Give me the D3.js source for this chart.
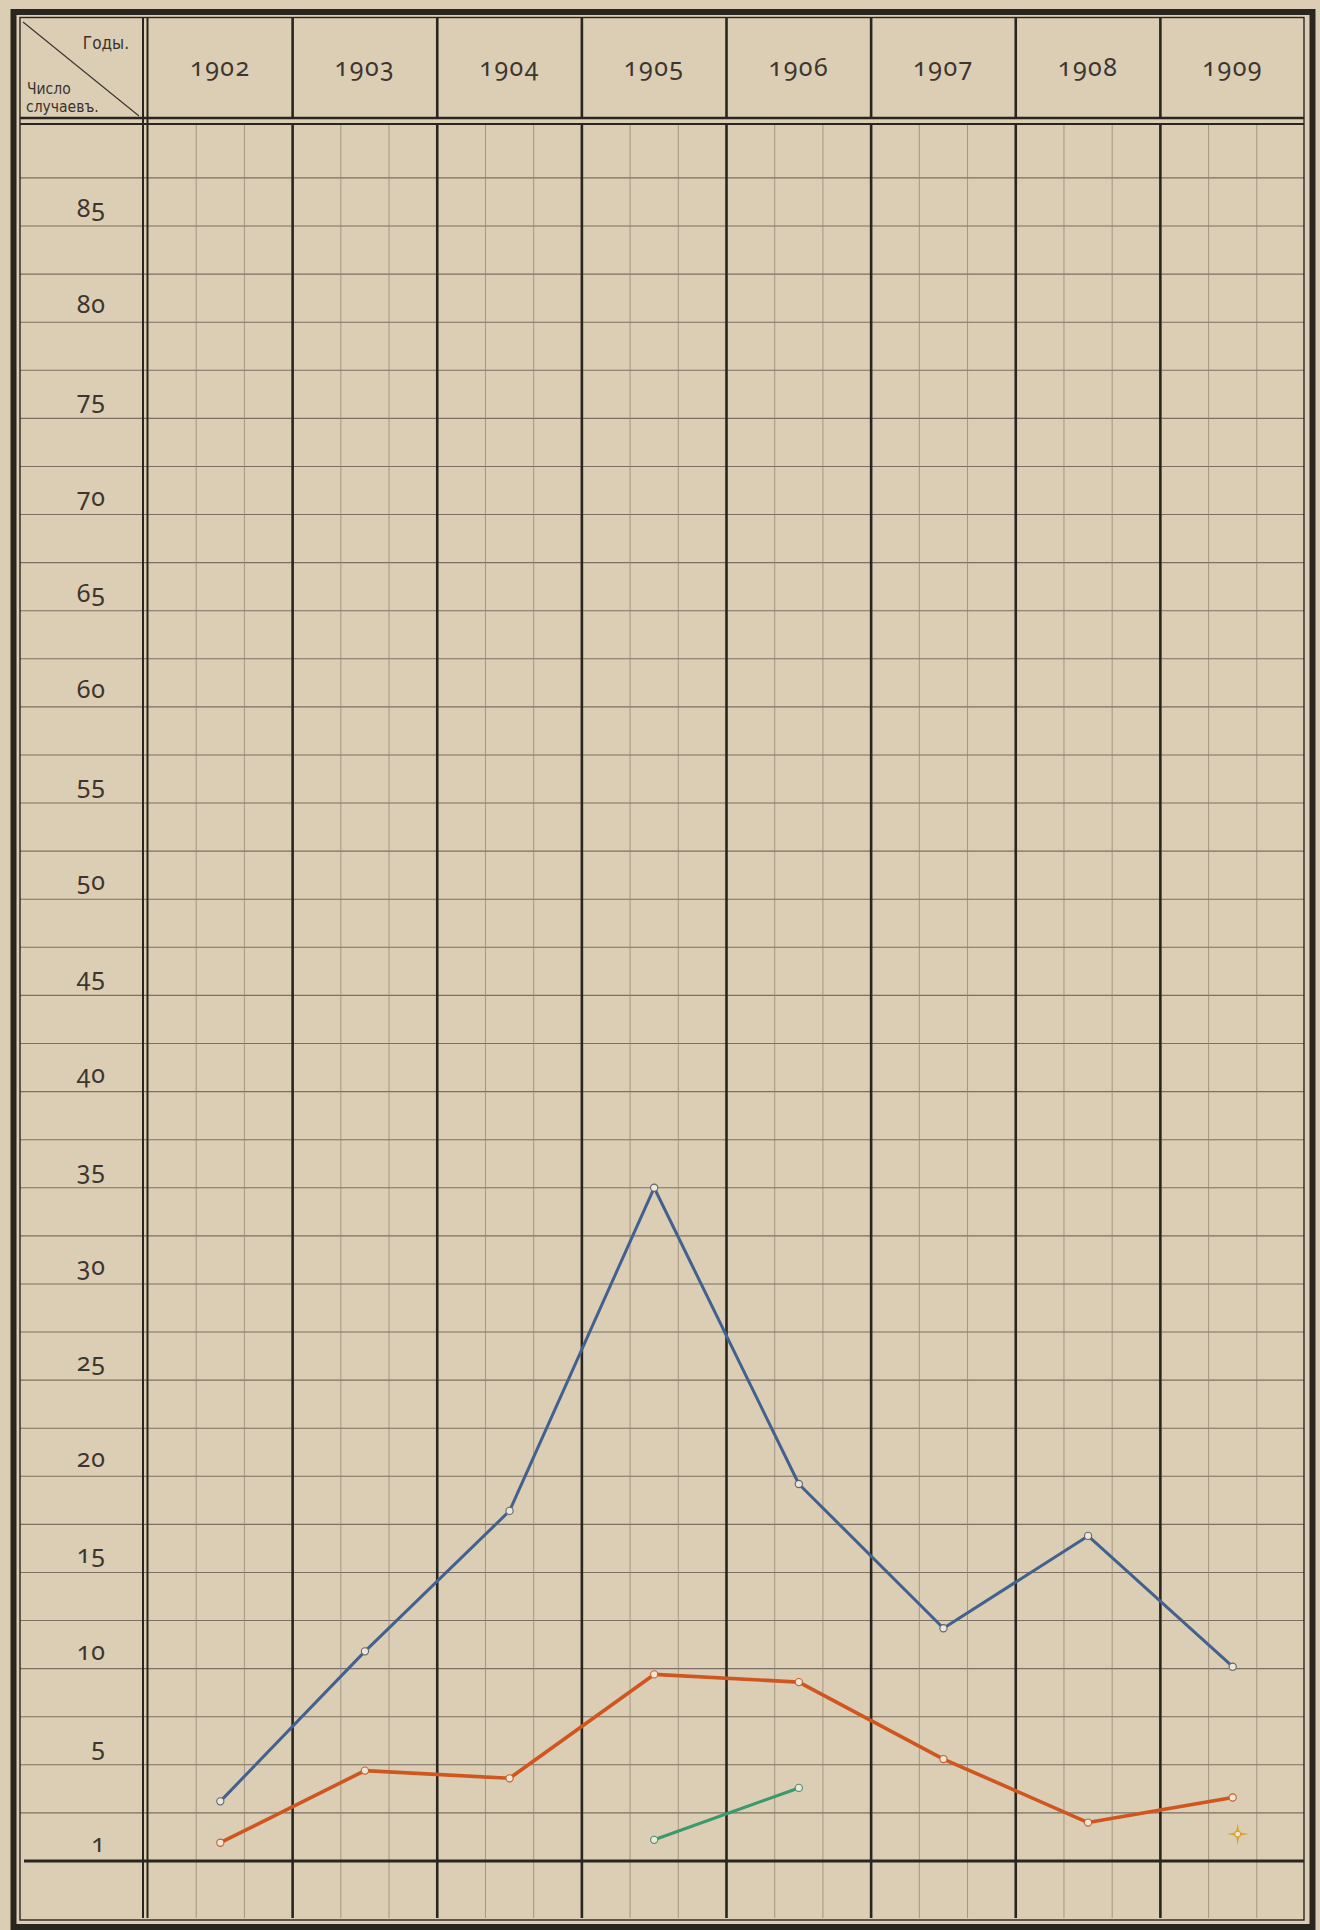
<!DOCTYPE html>
<html>
<head>
<meta charset="utf-8">
<script src="https://cdn.jsdelivr.net/npm/d3@7"></script>
<style>
html,body{margin:0;padding:0;background:#dbceb5;}
svg{display:block;}
</style>
</head>
<body>
<svg id="chart" width="1320" height="1930"></svg>
<script>
// ---------------- data ----------------
const years = ["1902", "1903", "1904", "1905", "1906", "1907", "1908", "1909"];
const blueCases = [3.1, 10.9, 18.2, 35, 19.6, 12.1, 16.9, 10.1];
const redCases = [0.95, 4.7, 4.3, 9.7, 9.3, 5.3, 2.0, 3.3];
const greenYears = ["1905", "1906"];
const greenCases = [1.1, 3.8];
const starYears = ["1909"];
const starCases = [1.4];
const yTickValues = [85, 80, 75, 70, 65, 60, 55, 50, 45, 40, 35, 30, 25, 20, 15, 10, 5, 1];
const yTickLabels = ["85", "80", "75", "70", "65", "60", "55", "50", "45", "40", "35", "30", "25", "20", "15", "10", "5", "1"];
const gridStep = 2.5;
const gridTop = 87.5;
const headerYears = "Годы.";
const headerCount1 = "Число";
const headerCount2 = "случаевъ.";

// ---------------- layout ----------------
const W = 1320, H = 1930;
const paper = "#dbceb5";
const ink = "#2b2520";
const svg = d3.select("#chart");

const x = d3.scaleBand().domain(years).range([148, 1305]).padding(0);
const y = d3.scaleLinear().domain([0, 85]).range([1861, 226]);
const cx = d => x(d) + x.bandwidth() / 2;

const fLeft = 20, fRight = 1304, fTop = 17.5, fBottom = 1920;
const headBot1 = 118, headBot2 = 124;

svg.append("rect").attr("width", W).attr("height", H).attr("fill", paper);

// horizontal grid lines
const gridVals = d3.range(gridStep, gridTop + 0.01, gridStep);
svg.append("g").selectAll("line").data(gridVals).join("line")
  .attr("x1", fLeft).attr("x2", fRight)
  .attr("y1", d => y(d)).attr("y2", d => y(d))
  .attr("stroke", "#7b7061").attr("stroke-width", 1.1);

// sub-column lines (thirds of a year)
const subs = [];
years.forEach(yr => { subs.push(x(yr) + x.bandwidth() / 3); subs.push(x(yr) + 2 * x.bandwidth() / 3); });
svg.append("g").selectAll("line").data(subs).join("line")
  .attr("x1", d => d).attr("x2", d => d)
  .attr("y1", headBot2 + 1).attr("y2", fBottom - 2)
  .attr("stroke", "#8f8473").attr("stroke-width", 1).attr("stroke-opacity", 0.75);

// year divider lines
const dividers = years.slice(1).map(yr => x(yr));
const gDiv = svg.append("g").attr("stroke", ink).attr("stroke-width", 2.6);
gDiv.selectAll("line.top").data(dividers).join("line").attr("class", "top")
  .attr("x1", d => d).attr("x2", d => d).attr("y1", fTop).attr("y2", headBot1);
gDiv.selectAll("line.bot").data(dividers).join("line").attr("class", "bot")
  .attr("x1", d => d).attr("x2", d => d).attr("y1", headBot2).attr("y2", fBottom - 2);

// label column double line
[143, 147.5].forEach(xx => {
  svg.append("line").attr("x1", xx).attr("x2", xx).attr("y1", fTop).attr("y2", fBottom - 2)
    .attr("stroke", ink).attr("stroke-width", 2);
});

// header double line
svg.append("line").attr("x1", fLeft).attr("x2", fRight).attr("y1", headBot1).attr("y2", headBot1)
  .attr("stroke", ink).attr("stroke-width", 2.6);
svg.append("line").attr("x1", fLeft).attr("x2", fRight).attr("y1", headBot2).attr("y2", headBot2)
  .attr("stroke", ink).attr("stroke-width", 2);

// base line (zero)
svg.append("line").attr("x1", fLeft + 4).attr("x2", fRight).attr("y1", y(0)).attr("y2", y(0))
  .attr("stroke", ink).attr("stroke-width", 3);

// frame
svg.append("rect").attr("x", fLeft).attr("y", fTop).attr("width", fRight - fLeft).attr("height", fBottom - fTop)
  .attr("fill", "none").attr("stroke", ink).attr("stroke-width", 1.4);
svg.append("rect").attr("x", 13.5).attr("y", 12).attr("width", 1299).attr("height", 1915)
  .attr("fill", "none").attr("stroke", ink).attr("stroke-width", 6);

// header corner cell
svg.append("line").attr("x1", 23).attr("y1", 22).attr("x2", 139).attr("y2", 116)
  .attr("stroke", "#3a332c").attr("stroke-width", 1.1);
const hdrFont = "'DejaVu Sans Condensed', 'DejaVu Sans', sans-serif";
svg.append("text").attr("x", 129).attr("y", 49).attr("text-anchor", "end")
  .attr("font-family", hdrFont).attr("font-size", 17).attr("fill", "#3a332c").text(headerYears);
svg.append("text").attr("x", 27).attr("y", 94)
  .attr("font-family", hdrFont).attr("font-size", 15.5).attr("fill", "#3a332c").text(headerCount1);
svg.append("text").attr("x", 26).attr("y", 112)
  .attr("font-family", hdrFont).attr("font-size", 15.5).attr("fill", "#3a332c").text(headerCount2);

// year labels
const numFont = "'Noto Sans', 'DejaVu Sans', sans-serif";
svg.append("g").selectAll("text").data(years).join("text")
  .attr("x", d => cx(d)).attr("y", 76)
  .attr("text-anchor", "middle")
  .attr("font-family", numFont).attr("font-size", 25)
  .attr("letter-spacing", 1.5)
  .style("font-variant-numeric", "oldstyle-nums")
  .attr("fill", "#3d362f")
  .text(d => d);

// y labels
svg.append("g").selectAll("text").data(yTickValues).join("text")
  .attr("x", 106)
  .attr("y", (d) => (d % 5 === 0 ? y(d) : y(0)) - 9)
  .attr("text-anchor", "end")
  .attr("font-family", numFont).attr("font-size", 25)
  .attr("letter-spacing", 1)
  .style("font-variant-numeric", "oldstyle-nums")
  .attr("fill", "#3d362f")
  .text((d, i) => yTickLabels[i]);

// ---------------- data lines ----------------
const line = d3.line().x(d => cx(d[0])).y(d => y(d[1]));
function series(yrs, vals, color, width, mStroke) {
  const pts = yrs.map((yr, i) => [yr, vals[i]]);
  svg.append("path").datum(pts).attr("d", line)
    .attr("fill", "none").attr("stroke", color).attr("stroke-width", width)
    .attr("stroke-linejoin", "round").attr("stroke-linecap", "round");
  svg.append("g").selectAll("circle").data(pts).join("circle")
    .attr("cx", d => cx(d[0])).attr("cy", d => y(d[1])).attr("r", 3.6)
    .attr("fill", "#eee6d6").attr("stroke", mStroke).attr("stroke-width", 1.1);
}
series(years, blueCases, "#41618f", 3, "#5e6470");
series(years, redCases, "#d0561f", 3.6, "#c8602c");
series(greenYears, greenCases, "#3b9a6c", 3.2, "#4a8f6e");

// lone star marker (1909)
const starPts = starYears.map((yr, i) => [yr, starCases[i]]);
const gStar = svg.append("g");
gStar.selectAll("path").data(starPts).join("path")
  .attr("d", d => {
    const px = cx(d[0]) + 5, py = y(d[1]);
    const p = d3.path();
    const L = 11, w = 1.6;
    p.moveTo(px, py - L); p.lineTo(px + w, py - w); p.lineTo(px + L, py); p.lineTo(px + w, py + w);
    p.lineTo(px, py + L); p.lineTo(px - w, py + w); p.lineTo(px - L, py); p.lineTo(px - w, py - w); p.closePath();
    return p.toString();
  })
  .attr("fill", "#d9a22a");
gStar.selectAll("circle").data(starPts).join("circle")
  .attr("cx", d => cx(d[0]) + 5).attr("cy", d => y(d[1])).attr("r", 3)
  .attr("fill", "#eee6d6").attr("stroke", "#d9a22a").attr("stroke-width", 1.2);
</script>
</body>
</html>
